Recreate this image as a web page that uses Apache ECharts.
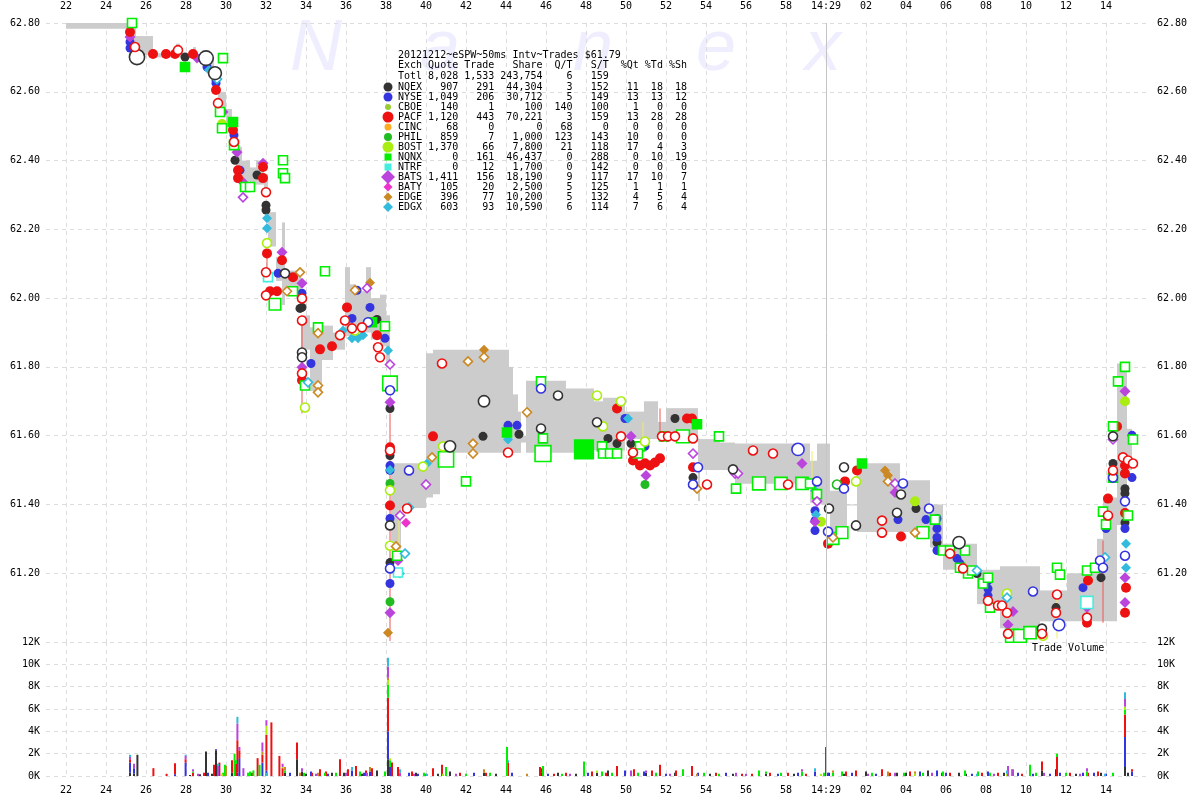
<!DOCTYPE html>
<html><head><meta charset="utf-8">
<script src="https://cdn.jsdelivr.net/npm/echarts@6/dist/echarts.min.js"></script>
<style>html,body{margin:0;padding:0;background:#fff}#c{width:1200px;height:800px}</style>
</head><body><div id="c"></div>
<script>
// ---------- tick labels ----------
const xTicks = [22,24,26,28,30,32,34,36,38,40,42,44,46,48,50,52,54,56,58,60,62,64,66,68,70,72,74];

// ---------- table ----------
const tableTitle = '20121212~eSPW~50ms Intv~Trades $61.79';
const tableHeader = 'Exch Quote Trade   Share  Q/T   S/T  %Qt %Td %Sh';
const totRow = ['Totl', 8028, 1533, 243754, 6, 159];
const exNames = ['NQEX','NYSE','CBOE','PACF','CINC','PHIL','BOST','NQNX','NTRF','BATS','BATY','EDGE','EDGX'];
const exQuote = [907,1049,140,1120,68,859,1370,0,0,1411,105,396,603];
const exTrade = [291,206,1,443,0,7,66,161,12,156,20,77,93];
const exShare = [44304,30712,100,70221,0,1000,7800,46437,1700,18190,2500,10200,10590];
const exQT = [3,5,140,3,68,123,21,0,0,9,5,5,6];
const exST = [152,149,100,159,0,143,118,288,142,117,125,132,114];
const exPQt = [11,13,1,13,0,10,17,0,0,17,1,4,7];
const exPTd = [18,13,0,28,0,0,4,10,0,10,1,5,6];
const exPSh = [18,12,0,28,0,0,3,19,0,7,1,4,4];

// ---------- NBBO band (time in s after 14:28:00, low, high) ----------
const bandT  = [22,25.2,25.5,26.35,27.5,27.7,28.35,28.5,29.0,29.4,29.6,30.0,30.3,30.5,30.8,31.2,31.5,31.9,32.1,32.5,32.8,32.95,33.5,33.75,34.2,34.8,35.35,35.95,36.2,36.5,37.0,37.25,37.7,38.0,38.2,38.25,38.75,40.0,40.35,40.7,44.15,44.35,44.6,44.75,45.0,47.0,48.4,48.85,49.95,50.9,51.6,52.0,53.6,53.7,54.7,55.45,59.2,59.55,60.2,61.05,61.55,63.7,65.2,65.85,67.55,68.7,70.7,72.05,73.55,73.85,74.55,75.05,75.3];
const bandLo = [62.783,62.72,62.707,62.70,62.70,62.70,62.71,62.69,62.67,62.62,62.55,62.50,62.45,62.38,62.34,62.33,62.33,62.30,62.15,62.05,61.98,62.02,62.00,61.85,61.73,61.82,61.85,61.89,61.89,61.90,61.90,61.88,61.86,61.80,61.70,61.27,61.39,61.42,61.43,61.55,61.55,61.55,61.55,61.58,61.55,61.55,61.557,61.557,61.59,61.59,61.59,61.60,61.41,61.50,61.50,61.46,61.405,61.40,61.315,61.40,61.32,61.32,61.275,61.21,61.11,61.04,61.06,61.06,61.06,61.06,61.34,61.50,61.55];
const bandHi = [62.80,62.79,62.762,62.712,62.74,62.71,62.73,62.71,62.70,62.66,62.60,62.55,62.50,62.44,62.40,62.38,62.40,62.36,62.25,62.12,62.22,62.08,62.07,61.95,61.915,61.92,61.90,62.09,62.04,62.02,62.09,62.00,62.01,61.95,61.80,61.52,61.52,61.84,61.85,61.85,61.80,61.72,61.67,61.60,61.76,61.737,61.70,61.71,61.67,61.70,61.64,61.68,61.59,61.59,61.58,61.577,61.527,61.577,61.44,61.40,61.52,61.47,61.40,61.286,61.21,61.22,61.15,61.20,61.30,61.42,61.81,61.62,61.55];

// ---------- thin connector lines [t, p1, p2] ----------
const redLines = [[32.05,62.13,62.075],[33.8,61.927,61.665],[38.2,61.665,61.003],[51.7,61.679,61.609],[73.85,61.295,61.056]];
const yellowLines = [[38.65,61.385,61.26],[50.85,61.64,61.56],[59.3,61.555,61.46],[71.55,61.14,61.01]];

// ---------- quotes (filled) [t, price] ----------
const qPACF = [[25.2,62.774],[26.35,62.71],[27.0,62.71],[27.45,62.71],[28.35,62.71],[29.5,62.605],[30.35,62.489],[30.6,62.372],[30.6,62.349],[31.85,62.381],[31.85,62.349],[32.05,62.13],[32.2,62.02],[32.55,62.02],[32.8,62.11],[33.35,62.061],[33.8,61.761],[34.7,61.851],[35.3,61.86],[36.05,61.973],[37.55,61.892],[38.2,61.566],[38.2,61.397],[40.35,61.598],[49.55,61.679],[50.35,61.528],[50.7,61.513],[50.95,61.52],[51.2,61.513],[51.45,61.522],[51.7,61.534],[53.05,61.65],[53.3,61.65],[53.35,61.508],[60.1,61.286],[60.95,61.467],[61.55,61.499],[63.75,61.307],[73.1,61.179],[73.05,61.056],[74.1,61.417],[74.55,61.627],[74.95,61.513],[74.95,61.49],[74.95,61.375],[75.0,61.158],[74.95,61.085]];
const qNQEX = [[27.95,62.701],[29.5,62.634],[30.45,62.401],[31.55,62.358],[32.0,62.27],[32.0,62.256],[33.7,61.97],[33.8,61.973],[37.55,61.938],[38.2,61.679],[38.2,61.542],[38.2,61.231],[42.85,61.598],[44.65,61.604],[49.1,61.592],[49.55,61.577],[50.25,61.577],[52.45,61.65],[53.35,61.478],[64.5,61.388],[65.55,61.289],[67.55,61.199],[71.5,61.10],[73.75,61.187],[74.35,61.519],[74.95,61.446],[74.95,61.432],[74.95,61.347]];
const qNYSE = [[25.2,62.745],[25.2,62.727],[29.05,62.672],[29.5,62.625],[30.4,62.474],[30.7,62.372],[32.6,62.072],[33.8,62.014],[34.25,61.81],[36.3,61.941],[36.55,62.023],[37.2,61.973],[37.95,61.883],[38.2,61.513],[38.2,61.499],[38.2,61.359],[38.2,61.17],[44.1,61.63],[44.55,61.63],[49.95,61.65],[50.95,61.569],[59.45,61.382],[59.45,61.353],[59.45,61.324],[63.6,61.356],[65.0,61.356],[65.55,61.359],[65.55,61.33],[65.55,61.304],[65.55,61.266],[66.55,61.243],[66.7,61.228],[68.1,61.179],[68.1,61.155],[68.1,61.135],[72.85,61.158],[74.0,61.33],[74.95,61.49],[75.3,61.478],[74.95,61.33],[75.3,61.601]];
const qBATS = [[25.2,62.759],[28.55,62.698],[29.85,62.541],[30.55,62.424],[30.85,62.337],[31.85,62.392],[32.8,62.133],[33.8,62.043],[33.8,61.799],[38.2,61.697],[38.6,61.237],[38.2,61.085],[50.25,61.598],[51.0,61.484],[58.8,61.519],[59.45,61.35],[63.45,61.435],[69.35,61.089],[69.1,61.05],[73.05,61.10],[74.95,61.729],[74.95,61.187],[74.95,61.115]];
const qBATY = [[39.0,61.347]];
const qEDGE = [[37.2,62.045],[42.9,61.85],[38.1,61.027],[62.95,61.499],[63.1,61.484]];
const qEDGX = [[27.95,62.672],[29.15,62.663],[32.05,62.232],[32.05,62.203],[35.85,61.906],[36.3,61.883],[36.6,61.883],[36.85,61.892],[38.1,61.848],[38.2,61.50],[38.7,61.199],[40.05,61.519],[44.1,61.589],[50.1,61.65],[59.45,61.44],[59.5,61.37],[75.0,61.286],[75.0,61.216]];
const qBOST = [[29.8,62.506],[59.75,61.35],[64.45,61.409],[74.95,61.70]];
const qPHIL = [[38.2,61.461],[38.2,61.117],[50.95,61.458]];

// ---------- trades (hollow) [t, price, shares] ----------
const tPACF = [[25.45,62.73],[27.6,62.721],[29.6,62.567],[30.4,62.454],[32.0,62.308],[32.0,62.075],[32.0,62.008],[33.8,61.999],[33.8,61.935],[33.8,61.781],[35.7,61.892],[35.95,61.935],[36.3,61.912],[36.8,61.915],[37.6,61.857],[37.7,61.828],[38.2,61.557],[39.05,61.388],[40.8,61.81],[44.1,61.551],[49.75,61.598],[50.35,61.551],[51.8,61.598],[52.1,61.598],[52.45,61.598],[53.35,61.592],[54.05,61.458],[56.35,61.557],[57.35,61.548],[58.1,61.458],[62.8,61.353],[62.8,61.318],[66.2,61.257],[66.85,61.214],[68.1,61.12],[68.6,61.106],[68.8,61.106],[69.05,61.085],[69.1,61.024],[70.8,61.024],[71.55,61.138],[71.5,61.085],[73.05,61.071],[74.1,61.368],[74.35,61.499],[74.85,61.537],[75.1,61.528],[75.35,61.519]];
const tNQEX = [[25.55,62.701,3000],[29.0,62.698,2500],[29.45,62.654,1500],[32.95,62.072],[33.8,61.842],[33.8,61.828],[38.2,61.339],[41.2,61.569,800],[42.9,61.70,800],[45.75,61.621],[46.6,61.717],[48.55,61.639],[55.35,61.502],[60.15,61.388],[60.9,61.508],[61.5,61.339],[63.55,61.376],[63.75,61.429],[66.65,61.289,1200],[70.8,61.039],[74.35,61.598]];
const tNYSE = [[38.2,61.732],[38.2,61.214],[39.15,61.499],[37.1,61.93],[45.75,61.737],[53.35,61.458],[53.6,61.508],[58.6,61.56,1200],[59.55,61.467],[60.1,61.321],[60.9,61.446],[63.85,61.461],[65.15,61.388],[70.35,61.147],[71.65,61.05,1000],[73.7,61.237],[73.85,61.216],[74.35,61.478],[74.95,61.409],[74.95,61.251]];
const tBATS = [[30.85,62.293],[37.05,62.029],[38.2,61.807],[38.7,61.368],[40.0,61.458],[53.35,61.548],[55.45,61.49],[55.6,61.49],[59.55,61.409],[63.45,61.461],[74.35,61.589]];
const tEDGE = [[33.7,62.075],[33.05,62.02],[34.6,61.746],[34.6,61.726],[34.6,61.898],[36.45,62.023],[38.5,61.278],[42.1,61.816],[42.9,61.828],[42.35,61.577],[42.35,61.548],[40.3,61.537],[45.05,61.668],[53.55,61.446],[60.35,61.304],[63.1,61.467],[64.45,61.318]];
const tEDGX = [[29.55,62.637],[34.1,61.755],[38.95,61.257],[39.15,61.391],[67.55,61.208],[69.05,61.129],[73.95,61.246]];
const tBOST = [[33.95,61.682],[38.2,61.441],[38.2,61.28],[39.85,61.51],[40.85,61.569],[48.85,61.627],[49.75,61.70],[48.55,61.717],[50.95,61.583],[61.5,61.467],[69.05,61.141],[70.85,61.018],[32.05,62.16],[36.45,61.906]];
const tPHIL = [[60.55,61.458]];
const tNQNX = [[25.3,62.80],[29.85,62.698],[29.7,62.541],[29.8,62.494],[30.4,62.445],[30.95,62.323],[31.2,62.323],[32.85,62.401],[32.85,62.363],[32.95,62.349],[32.45,61.982,900],[33.35,62.02],[33.95,61.746],[34.95,62.078],[34.6,61.915],[37.95,61.918],[38.2,61.752,2500],[38.55,61.251],[41.0,61.531,3000],[42.0,61.467],[45.75,61.758],[45.85,61.592],[45.85,61.548,3500],[48.8,61.569],[48.85,61.548],[49.2,61.548],[49.55,61.548],[50.7,61.569],[50.6,61.548],[51.9,61.598],[52.85,61.598,1500],[54.65,61.598],[55.5,61.446],[56.65,61.461,1500],[57.75,61.461,1200],[58.8,61.461,1200],[59.2,61.461],[59.55,61.43],[60.35,61.301,1000],[60.8,61.318,1000],[64.85,61.318,1000],[65.45,61.356],[65.85,61.266],[66.2,61.266],[66.95,61.266],[66.7,61.216],[67.1,61.199],[67.3,61.208],[67.85,61.17],[68.1,61.187],[68.2,61.10],[69.3,61.018,1500],[69.7,61.018,1500],[70.2,61.027,1200],[71.55,61.216],[71.7,61.196],[73.05,61.208],[73.45,61.216],[73.85,61.379],[74.0,61.342],[74.35,61.627],[74.35,61.478],[74.6,61.758],[74.95,61.80],[75.1,61.368],[75.35,61.589]];
const tNQNXbig = [[27.95,62.672],[30.35,62.512],[37.3,61.93],[44.05,61.609],[47.9,61.56,6000],[53.55,61.633],[61.8,61.519]];
const tNTRF = [[32.1,62.061],[38.6,61.202],[73.05,61.115,1200]];

// ---------- volume [t, shares] per exchange ----------
const volNQEX = [[25.2,300],[25.4,200],[25.57,1900],[28.2,100],[28.7,150],[29.0,2200],[29.3,200],[29.5,2300],[30.3,300],[32.95,300],[33.55,1500],[33.8,400],[34.0,200],[35.3,300],[35.9,300],[36.8,200],[37.55,500],[38.1,1500],[38.25,500],[39.5,300],[40.6,200],[41.2,400],[42.9,300],[43.5,200],[45.75,300],[46.6,300],[47.5,200],[48.55,300],[49.1,500],[51.0,300],[52.45,300],[54.2,200],[55.35,200],[57.0,200],[58.4,200],[60.15,300],[60.9,200],[62.0,400],[63.55,300],[64.0,300],[65.1,500],[66.65,300],[67.0,200],[68.9,300],[70.8,500],[71.5,600],[72.5,200],[73.75,300],[74.95,800],[75.1,300]];
const volNYSE = [[25.2,900],[25.4,500],[27.45,150],[27.98,1200],[29.1,300],[29.5,100],[30.57,300],[30.67,1600],[31.82,1200],[32.02,500],[33.2,300],[34.25,400],[35.1,200],[36.3,500],[36.9,300],[37.2,400],[38.1,2500],[38.2,800],[39.15,300],[39.6,200],[42.4,300],[44.3,300],[45.75,400],[46.1,200],[48.1,300],[49.95,500],[50.9,400],[52.0,200],[53.6,300],[55.0,300],[57.6,200],[58.6,300],[59.45,400],[60.1,300],[61.3,300],[62.5,200],[64.7,400],[65.55,500],[66.0,300],[67.3,200],[68.1,400],[69.6,300],[70.35,200],[71.2,200],[71.7,300],[72.85,300],[73.4,300],[74.0,200],[74.95,2700],[75.3,400]];
const volPACF = [[25.2,300],[26.37,700],[27.03,200],[27.45,1000],[27.98,300],[28.35,300],[28.9,300],[29.4,1000],[29.67,1200],[30.3,1100],[30.5,1100],[30.57,2900],[30.67,700],[31.3,300],[31.58,1600],[31.82,700],[32.02,3200],[32.27,4800],[32.67,1800],[32.83,700],[33.55,1500],[34.3,300],[34.7,600],[35.0,400],[35.7,1500],[36.1,600],[36.5,900],[37.0,500],[37.3,700],[38.1,3000],[38.3,1200],[38.6,800],[39.3,400],[40.35,700],[40.8,1000],[41.7,300],[43.0,300],[44.1,1200],[45.7,800],[46.4,200],[47.0,300],[48.3,400],[49.0,300],[49.55,900],[50.4,600],[51.3,500],[51.7,1000],[52.5,500],[53.3,900],[54.5,300],[55.8,200],[56.3,200],[57.2,300],[58.1,300],[59.0,200],[60.0,2600],[61.0,400],[61.5,500],[62.8,600],[63.2,300],[64.2,400],[65.8,300],[66.2,300],[67.8,300],[68.6,300],[69.8,200],[70.8,800],[71.55,1700],[72.2,300],[73.1,300],[73.6,400],[74.95,2000],[75.3,200]];
const volNQNX = [[28.35,100],[29.85,300],[29.95,1000],[30.43,2000],[30.5,300],[31.1,300],[31.2,400],[31.37,500],[31.68,1000],[32.95,200],[33.9,300],[34.95,300],[35.5,300],[36.7,400],[37.95,400],[38.1,1200],[38.2,600],[39.9,300],[41.0,800],[42.0,200],[43.2,300],[44.05,2600],[45.85,900],[46.8,200],[47.9,1300],[48.8,400],[49.3,300],[50.6,300],[51.5,300],[52.85,600],[53.9,300],[54.65,200],[56.65,500],[57.0,200],[57.75,300],[58.8,400],[59.9,300],[60.35,300],[60.8,400],[62.3,300],[63.9,300],[64.85,300],[65.85,400],[66.95,500],[67.6,400],[68.2,300],[69.3,600],[70.2,1000],[70.5,300],[71.55,300],[72.0,300],[73.05,400],[74.35,300],[74.95,400]];
const volBOST = [[29.8,200],[32.02,800],[32.83,100],[38.1,400],[38.2,200],[40.85,200],[48.55,200],[59.75,200],[64.45,200],[69.05,200],[74.95,300]];
const volEDGE = [[30.0,900],[31.82,300],[32.95,300],[33.7,300],[34.6,300],[37.2,400],[38.1,200],[42.9,300],[45.05,200],[53.55,200],[60.35,200],[63.1,400],[64.45,200]];
const volBATS = [[25.2,200],[25.4,400],[27.98,300],[28.35,200],[28.6,200],[29.6,900],[30.57,1500],[30.67,300],[30.87,700],[31.82,800],[32.02,500],[32.83,300],[33.8,300],[34.5,200],[36.0,300],[37.05,300],[38.1,1000],[38.7,300],[39.4,200],[40.0,200],[41.5,200],[47.2,200],[50.25,500],[51.0,200],[52.2,200],[55.5,300],[56.0,200],[58.8,200],[62.1,200],[63.45,300],[65.3,300],[68.4,200],[69.1,900],[69.35,600],[70.9,300],[72.7,200],[73.05,300],[74.95,700]];
const volEDGX = [[25.2,200],[27.98,100],[29.6,200],[30.57,600],[32.05,300],[36.3,300],[38.1,800],[38.7,300],[40.05,200],[44.1,200],[59.45,300],[67.55,200],[69.05,300],[73.95,200],[74.95,600]];

// ---------- styling ----------
const C = {NQEX:'#333333',NYSE:'#3535e0',CBOE:'#99cc33',PACF:'#ee1111',CINC:'#ffaa22',PHIL:'#22bb22',BOST:'#aaee11',NQNX:'#00ee00',NTRF:'#44eedd',BATS:'#bb44dd',BATY:'#ee33cc',EDGE:'#cc8822',EDGX:'#33bbdd'};
const MONO = '"DejaVu Sans Mono", monospace';

function xFmt(v){ if (v === 60) return '14:29'; if (v > 60) return String(v-60).padStart(2,'0'); return String(v); }

// band data
const bandData = [];
for (let i = 0; i < bandT.length - 1; i++) bandData.push([bandT[i], bandT[i+1], bandLo[i], bandHi[i]]);

// volume stacking
const volOrder = [['NQEX',volNQEX],['NYSE',volNYSE],['PACF',volPACF],['NQNX',volNQNX],['BOST',volBOST],['EDGE',volEDGE],['BATS',volBATS],['EDGX',volEDGX]];
const volData = []; const acc = {};
volOrder.forEach(([ex, arr]) => {
  arr.forEach(([t, v]) => {
    const k = t.toFixed(2); const b = acc[k] || 0;
    volData.push({value:[t, b, b+v], itemStyle:{color:C[ex]}});
    acc[k] = b + v;
  });
});

function tradeSize(v){ return v[2] ? 7 + Math.sqrt(v[2]) * 0.15 : 9; }

function quoteSeries(name, data, symbol, size){
  return {type:'scatter', name, data, symbol, symbolSize:size, xAxisIndex:0, yAxisIndex:0, z:3, silent:true,
    itemStyle:{color:C[name], opacity:1}};
}
function tradeSeries(name, data, symbol, filled){
  return {type:'scatter', name:name+'T', data, symbol, symbolSize:tradeSize, xAxisIndex:0, yAxisIndex:0, z:4, silent:true,
    itemStyle:{color: filled ? C[name] : '#ffffff', borderColor:C[name], borderWidth:1.6, opacity:1}};
}
function lineSeries(data, color){
  return {type:'custom', xAxisIndex:0, yAxisIndex:0, z:2, silent:true, data, encode:{x:0, y:[1,2]},
    renderItem:(params, api) => {
      const a = api.coord([api.value(0), api.value(1)]);
      const b = api.coord([api.value(0), api.value(2)]);
      return {type:'line', shape:{x1:a[0], y1:a[1], x2:b[0], y2:b[1]}, style:{stroke:color, lineWidth:1}};
    }};
}

const axisLbl = {fontFamily:MONO, fontSize:10, color:'#000'};
const splitDash = {show:true, lineStyle:{color:'#dcdcdc', type:[4,4], width:1}};

const chart = echarts.init(document.getElementById('c'), null, {renderer:'canvas'});

// watermark & table graphics
const g = [];
const wm = [['N',316],['a',440],['n',593],['e',716],['x',823]];
wm.forEach(([ch, x]) => g.push({type:'text', x, y:50, z:-1, silent:true,
  style:{text:ch, font:'italic 72px "Liberation Sans", sans-serif', fill:'#eeeeff', align:'center', verticalAlign:'middle'}}));

const tx = 398, ty0 = 55, dy = 10;
function fmt(n){ return Number(n).toLocaleString('en-US'); }
const rows = [tableTitle, tableHeader,
  totRow[0] + ' ' + fmt(totRow[1]).padStart(5) + ' ' + fmt(totRow[2]).padStart(5) + ' ' + fmt(totRow[3]).padStart(7) + ' ' + String(totRow[4]).padStart(4) + ' ' + String(totRow[5]).padStart(5)];
exNames.forEach((n, i) => rows.push(n + ' ' + fmt(exQuote[i]).padStart(5) + ' ' + fmt(exTrade[i]).padStart(5) + ' ' + fmt(exShare[i]).padStart(7) + ' ' + String(exQT[i]).padStart(4) + ' ' + String(exST[i]).padStart(5) + ' ' + String(exPQt[i]).padStart(4) + ' ' + String(exPTd[i]).padStart(3) + ' ' + String(exPSh[i]).padStart(3)));
const rowY = rows.map((r, i) => i < 3 ? ty0 + i*10.7 : 87 + (i-3)*dy);
rows.forEach((r, i) => g.push({type:'text', x:tx, y:rowY[i], z:100, silent:true,
  style:{text:r, font:'10px ' + MONO, fill:'#000', verticalAlign:'middle', align:'left'}}));

const legShape = {NQEX:['c',4.5],NYSE:['c',4.5],CBOE:['c',3],PACF:['c',5.5],CINC:['c',3.5],PHIL:['c',4],BOST:['c',5.5],NQNX:['r',3.5],NTRF:['r',3.5],BATS:['d',7],BATY:['d',4.5],EDGE:['d',4.5],EDGX:['d',5]};
exNames.forEach((n, i) => {
  const cy = rowY[i+3], cx = 388, [s, r] = legShape[n];
  if (s === 'c') g.push({type:'circle', z:100, silent:true, shape:{cx, cy, r}, style:{fill:C[n]}});
  else if (s === 'r') g.push({type:'rect', z:100, silent:true, shape:{x:cx-r, y:cy-r, width:2*r, height:2*r}, style:{fill:C[n]}});
  else g.push({type:'polygon', z:100, silent:true, shape:{points:[[cx,cy-r],[cx+r,cy],[cx,cy+r],[cx-r,cy]]}, style:{fill:C[n]}});
});
g.push({type:'text', x:1032, y:648, z:100, silent:true, style:{text:'Trade Volume', font:'10px ' + MONO, fill:'#000', verticalAlign:'middle'}});

const option = {
  backgroundColor:'#ffffff',
  animation:false,
  graphic:g,
  grid:[
    {left:46, right:54, top:23, bottom:158},
    {left:46, right:54, top:642, bottom:24}
  ],
  xAxis:[
    {gridIndex:0, type:'value', min:21, max:76, position:'top',
      axisLine:{show:false}, axisTick:{show:false, customValues:xTicks},
      axisLabel:Object.assign({customValues:xTicks, formatter:xFmt, margin:12}, axisLbl), splitLine:splitDash},
    {gridIndex:1, type:'value', min:21, max:76, position:'bottom',
      axisLine:{show:false}, axisTick:{show:false, customValues:xTicks},
      axisLabel:Object.assign({customValues:xTicks, formatter:xFmt, margin:9}, axisLbl), splitLine:splitDash}
  ],
  yAxis:[
    {gridIndex:0, type:'value', min:61, max:62.8, interval:0.2, position:'left',
      axisLine:{show:false}, axisTick:{show:false},
      axisLabel:Object.assign({formatter:v => v < 61.1 ? '' : v.toFixed(2), margin:6}, axisLbl), splitLine:splitDash},
    {gridIndex:0, type:'value', min:61, max:62.8, interval:0.2, position:'right',
      axisLine:{show:false}, axisTick:{show:false},
      axisLabel:Object.assign({formatter:v => v < 61.1 ? '' : v.toFixed(2), margin:11}, axisLbl), splitLine:{show:false}},
    {gridIndex:1, type:'value', min:0, max:12000, interval:2000, position:'left',
      axisLine:{show:false}, axisTick:{show:false},
      axisLabel:Object.assign({formatter:v => (v/1000) + 'K', margin:6}, axisLbl), splitLine:splitDash},
    {gridIndex:1, type:'value', min:0, max:12000, interval:2000, position:'right',
      axisLine:{show:false}, axisTick:{show:false},
      axisLabel:Object.assign({formatter:v => (v/1000) + 'K', margin:11}, axisLbl), splitLine:{show:false}}
  ],
  series:[
    {type:'custom', name:'band', xAxisIndex:0, yAxisIndex:0, z:1, silent:true, data:bandData, encode:{x:[0,1], y:[2,3]},
      renderItem:(params, api) => {
        const a = api.coord([api.value(0), api.value(3)]);
        const b = api.coord([api.value(1), api.value(2)]);
        return {type:'rect', shape:{x:a[0], y:a[1], width:b[0]-a[0], height:Math.max(1, b[1]-a[1])}, style:{fill:'#cccccc'}};
      },
      markLine:{silent:true, symbol:'none', label:{show:false}, lineStyle:{color:'#c4c4c4', type:'solid', width:1}, data:[{xAxis:60}]}
    },
    lineSeries(redLines, '#ee5555'),
    lineSeries(yellowLines, '#eeee66'),
    quoteSeries('NQEX', qNQEX, 'circle', 9),
    quoteSeries('NYSE', qNYSE, 'circle', 9),
    quoteSeries('PHIL', qPHIL, 'circle', 9),
    quoteSeries('BOST', qBOST, 'circle', 10),
    quoteSeries('EDGE', qEDGE, 'diamond', 10),
    quoteSeries('EDGX', qEDGX, 'diamond', 10),
    quoteSeries('BATS', qBATS, 'diamond', 11),
    quoteSeries('BATY', qBATY, 'diamond', 10),
    quoteSeries('PACF', qPACF, 'circle', 10),
    tradeSeries('NQNX', tNQNXbig, 'rect', true),
    tradeSeries('NQNX', tNQNX, 'rect', false),
    tradeSeries('NTRF', tNTRF, 'rect', false),
    tradeSeries('PHIL', tPHIL, 'circle', false),
    tradeSeries('BOST', tBOST, 'circle', false),
    tradeSeries('EDGE', tEDGE, 'diamond', false),
    tradeSeries('EDGX', tEDGX, 'diamond', false),
    tradeSeries('BATS', tBATS, 'diamond', false),
    tradeSeries('NYSE', tNYSE, 'circle', false),
    tradeSeries('NQEX', tNQEX, 'circle', false),
    tradeSeries('PACF', tPACF, 'circle', false),
    {type:'custom', name:'volume', xAxisIndex:1, yAxisIndex:2, z:2, silent:true, data:volData, encode:{x:0, y:[1,2]},
      renderItem:(params, api) => {
        const a = api.coord([api.value(0), api.value(1)]);
        const b = api.coord([api.value(0), api.value(2)]);
        return {type:'rect', shape:{x:a[0]-1, y:b[1], width:2, height:a[1]-b[1]}, style:{fill:api.visual('color')}};
      },
      markLine:{silent:true, symbol:'none', label:{show:false}, lineStyle:{color:'#c4c4c4', type:'solid', width:1}, data:[{xAxis:60}]}
    }
  ]
};
chart.setOption(option);
</script></body></html>
